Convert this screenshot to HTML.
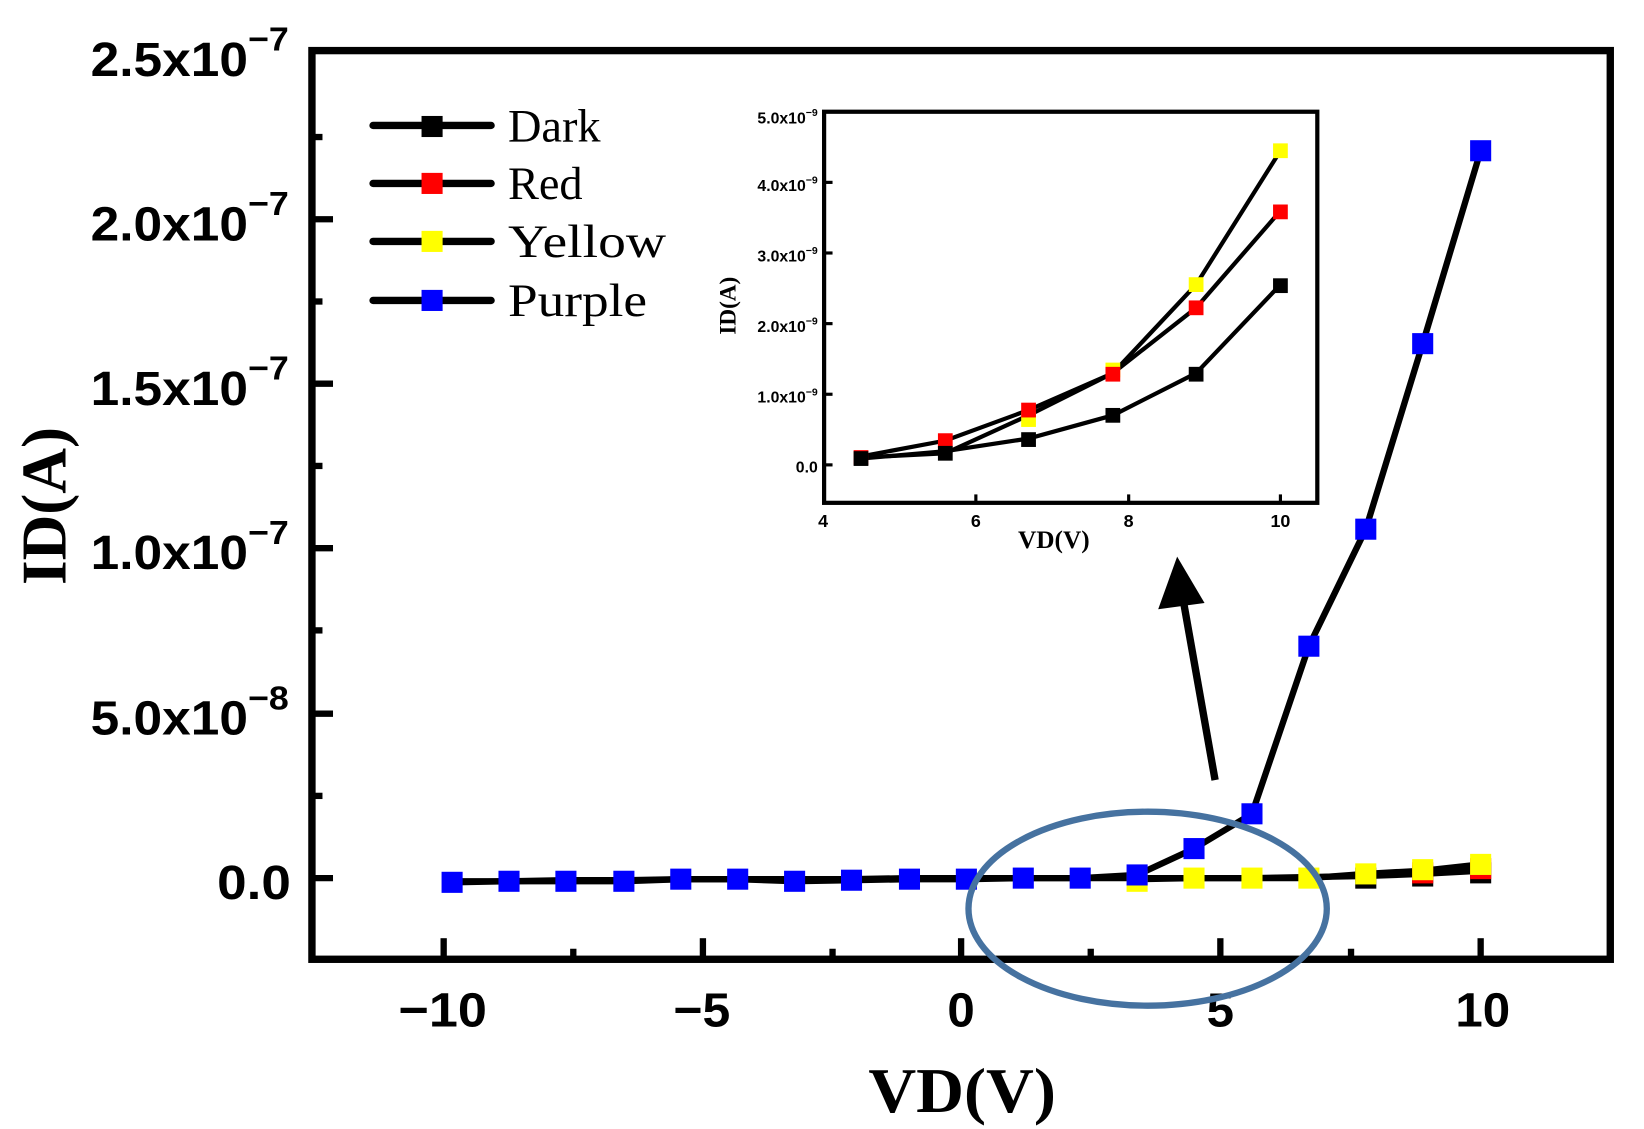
<!DOCTYPE html>
<html><head><meta charset="utf-8"><style>
html,body{margin:0;padding:0;background:#fff;}
svg{display:block;}
.t{font-family:"Liberation Sans",sans-serif;fill:#000;}
.s{font-family:"Liberation Serif",serif;fill:#000;}
</style></head><body>
<svg width="1644" height="1129" viewBox="0 0 1560 1071" preserveAspectRatio="none" xmlns="http://www.w3.org/2000/svg">
<rect width="1560" height="1071" fill="#fff"/>
<!-- main frame -->
<rect x="296" y="48" width="1232" height="862" fill="none" stroke="#000" stroke-width="7"/>
<g stroke="#000" stroke-width="6">
<line x1="296" y1="208" x2="316" y2="208"/><line x1="296" y1="364" x2="316" y2="364"/><line x1="296" y1="520" x2="316" y2="520"/><line x1="296" y1="677" x2="316" y2="677"/><line x1="296" y1="833" x2="316" y2="833"/>
<line x1="296" y1="130" x2="306" y2="130"/><line x1="296" y1="286" x2="306" y2="286"/><line x1="296" y1="442" x2="306" y2="442"/><line x1="296" y1="598" x2="306" y2="598"/><line x1="296" y1="755" x2="306" y2="755"/>
<line x1="421" y1="910" x2="421" y2="890"/><line x1="667" y1="910" x2="667" y2="890"/><line x1="912" y1="910" x2="912" y2="890"/><line x1="1158" y1="910" x2="1158" y2="890"/><line x1="1405" y1="910" x2="1405" y2="890"/>
<line x1="544" y1="910" x2="544" y2="900"/><line x1="790" y1="910" x2="790" y2="900"/><line x1="1035" y1="910" x2="1035" y2="900"/><line x1="1282" y1="910" x2="1282" y2="900"/>
</g>
<!-- y tick labels -->
<g class="t" style="font-size:46px;font-weight:bold">
<text x="86" y="72" textLength="188" lengthAdjust="spacingAndGlyphs">2.5x10<tspan dy="-24" style="font-size:32px">−7</tspan></text>
<text x="86" y="228" textLength="188" lengthAdjust="spacingAndGlyphs">2.0x10<tspan dy="-24" style="font-size:32px">−7</tspan></text>
<text x="86" y="384" textLength="188" lengthAdjust="spacingAndGlyphs">1.5x10<tspan dy="-24" style="font-size:32px">−7</tspan></text>
<text x="86" y="540" textLength="188" lengthAdjust="spacingAndGlyphs">1.0x10<tspan dy="-24" style="font-size:32px">−7</tspan></text>
<text x="86" y="697" textLength="188" lengthAdjust="spacingAndGlyphs">5.0x10<tspan dy="-24" style="font-size:32px">−8</tspan></text>
<text x="206" y="853" textLength="70" lengthAdjust="spacingAndGlyphs">0.0</text>
</g>
<g class="t" style="font-size:46px;font-weight:bold">
<text x="378" y="974" textLength="84" lengthAdjust="spacingAndGlyphs">−10</text>
<text x="639" y="974" textLength="54" lengthAdjust="spacingAndGlyphs">−5</text>
<text x="899" y="974" textLength="26" lengthAdjust="spacingAndGlyphs">0</text>
<text x="1145" y="974" textLength="26" lengthAdjust="spacingAndGlyphs">5</text>
<text x="1381" y="974" textLength="52" lengthAdjust="spacingAndGlyphs">10</text>
</g>
<text class="s" x="824" y="1055" textLength="178" lengthAdjust="spacingAndGlyphs" style="font-size:60px;font-weight:bold">VD(V)</text>
<text class="s" transform="translate(62,480) rotate(-90)" text-anchor="middle" style="font-size:60px;font-weight:bold">ID(A)</text>
<!-- legend -->
<g stroke="#000" stroke-width="7" stroke-linecap="round">
<line x1="354" y1="119" x2="466" y2="119"/><line x1="354" y1="174" x2="466" y2="174"/><line x1="354" y1="229" x2="466" y2="229"/><line x1="354" y1="285" x2="466" y2="285"/>
</g>
<rect x="400" y="110" width="20" height="20" fill="#000"/>
<rect x="400" y="164" width="20" height="20" fill="#f00"/>
<rect x="400" y="219" width="20" height="20" fill="#ff0"/>
<rect x="400" y="275" width="20" height="20" fill="#00f"/>
<g class="s" style="font-size:44px">
<text x="482" y="134">Dark</text><text x="482" y="189">Red</text><text x="482" y="244" textLength="150" lengthAdjust="spacingAndGlyphs">Yellow</text><text x="482" y="300" textLength="132" lengthAdjust="spacingAndGlyphs">Purple</text>
</g>
<!-- series lines -->
<g fill="none" stroke="#000" stroke-width="6" stroke-linejoin="round">
<polyline points="429,836 483,836 537,835 592,835 646,834 700,834 754,834 808,834 863,833 917,833 971,833 1025,833 1079,833 1133,833 1188,833 1242,832 1296,831 1350,829 1405,826"/>
<polyline points="1079,834 1133,833 1188,833 1242,833 1296,829 1350,826 1405,820"/>
<polyline points="429,837 483,836 537,836 592,836 646,834 700,834 754,836 808,835 863,834 917,834 971,833 1025,833 1079,830 1133,805 1188,772 1242,613 1296,502 1350,326 1405,143"/>
</g>
<!-- markers -->
<g fill="#000">
<rect x="1286" y="823" width="20" height="20"/><rect x="1340" y="821" width="20" height="20"/><rect x="1395" y="818" width="20" height="20"/>
</g>
<g fill="#f00">
<rect x="1340" y="818" width="20" height="20"/><rect x="1395" y="814" width="20" height="20"/>
</g>
<g fill="#ff0">
<rect x="1069" y="826" width="20" height="20"/><rect x="1123" y="823" width="20" height="20"/><rect x="1178" y="823" width="20" height="20"/><rect x="1232" y="823" width="20" height="20"/><rect x="1286" y="819" width="20" height="20"/><rect x="1340" y="815" width="20" height="20"/><rect x="1395" y="810" width="20" height="20"/>
</g>
<g fill="#00f">
<rect x="419" y="827" width="20" height="20"/><rect x="473" y="826" width="20" height="20"/><rect x="527" y="826" width="20" height="20"/><rect x="582" y="826" width="20" height="20"/><rect x="636" y="824" width="20" height="20"/><rect x="690" y="824" width="20" height="20"/><rect x="744" y="826" width="20" height="20"/><rect x="798" y="825" width="20" height="20"/><rect x="853" y="824" width="20" height="20"/><rect x="907" y="824" width="20" height="20"/><rect x="961" y="823" width="20" height="20"/><rect x="1015" y="823" width="20" height="20"/><rect x="1069" y="820" width="20" height="20"/><rect x="1123" y="795" width="20" height="20"/><rect x="1178" y="762" width="20" height="20"/><rect x="1232" y="603" width="20" height="20"/><rect x="1286" y="492" width="20" height="20"/><rect x="1340" y="316" width="20" height="20"/><rect x="1395" y="133" width="20" height="20"/>
</g>
<!-- ellipse & arrow -->
<ellipse cx="1089" cy="862" rx="170" ry="92" fill="none" stroke="#4672a0" stroke-width="6"/>
<line x1="1153" y1="740" x2="1122" y2="565" stroke="#000" stroke-width="7"/>
<polygon points="1117,528 1143,572 1099,578" fill="#000"/>
<!-- inset -->
<rect x="782" y="106" width="468" height="371" fill="#fff" stroke="#000" stroke-width="4"/>
<g stroke="#000" stroke-width="3">
<line x1="782" y1="441" x2="790" y2="441"/><line x1="782" y1="374" x2="790" y2="374"/><line x1="782" y1="307" x2="790" y2="307"/><line x1="782" y1="240" x2="790" y2="240"/><line x1="782" y1="173" x2="790" y2="173"/>
<line x1="926" y1="477" x2="926" y2="469"/><line x1="1071" y1="477" x2="1071" y2="469"/><line x1="1215" y1="477" x2="1215" y2="469"/>
</g>
<g class="t" style="font-size:15px;font-weight:bold" text-anchor="end">
<text x="776" y="117">5.0x10<tspan dy="-7" style="font-size:10px">−9</tspan></text>
<text x="776" y="181">4.0x10<tspan dy="-7" style="font-size:10px">−9</tspan></text>
<text x="776" y="248">3.0x10<tspan dy="-7" style="font-size:10px">−9</tspan></text>
<text x="776" y="315">2.0x10<tspan dy="-7" style="font-size:10px">−9</tspan></text>
<text x="776" y="382">1.0x10<tspan dy="-7" style="font-size:10px">−9</tspan></text>
<text x="776" y="448">0.0</text>
</g>
<g class="t" style="font-size:17px;font-weight:bold" text-anchor="middle">
<text x="781" y="500">4</text><text x="926" y="500">6</text><text x="1071" y="500">8</text><text x="1215" y="500">10</text>
</g>
<text class="s" x="1000" y="520" text-anchor="middle" style="font-size:24px;font-weight:bold">VD(V)</text>
<text class="s" transform="translate(698,290) rotate(-90)" text-anchor="middle" style="font-size:22px;font-weight:bold">ID(A)</text>
<g fill="none" stroke="#000" stroke-width="4">
<polyline points="817,434 897,430 976,394 1056,354 1135,270 1215,143"/>
<polyline points="817,433 897,418 976,389 1056,354 1135,292 1215,200"/>
<polyline points="817,435 897,428 976,416 1056,394 1135,354 1215,270"/>
</g>
<g>
<rect x="810" y="427" width="14" height="14" fill="#f00"/>
<rect x="1208" y="136" width="14" height="14" fill="#ff0"/><rect x="1128" y="263" width="14" height="14" fill="#ff0"/><rect x="969" y="391" width="14" height="14" fill="#ff0"/><rect x="1049" y="344" width="14" height="14" fill="#ff0"/>
<rect x="890" y="411" width="14" height="14" fill="#f00"/><rect x="969" y="382" width="14" height="14" fill="#f00"/><rect x="1049" y="348" width="14" height="14" fill="#f00"/><rect x="1128" y="285" width="14" height="14" fill="#f00"/><rect x="1208" y="194" width="14" height="14" fill="#f00"/>
<rect x="810" y="428" width="14" height="14" fill="#000"/><rect x="890" y="423" width="14" height="14" fill="#000"/><rect x="969" y="410" width="14" height="14" fill="#000"/><rect x="1049" y="387" width="14" height="14" fill="#000"/><rect x="1128" y="348" width="14" height="14" fill="#000"/><rect x="1208" y="264" width="14" height="14" fill="#000"/>
</g>
</svg>
</body></html>
